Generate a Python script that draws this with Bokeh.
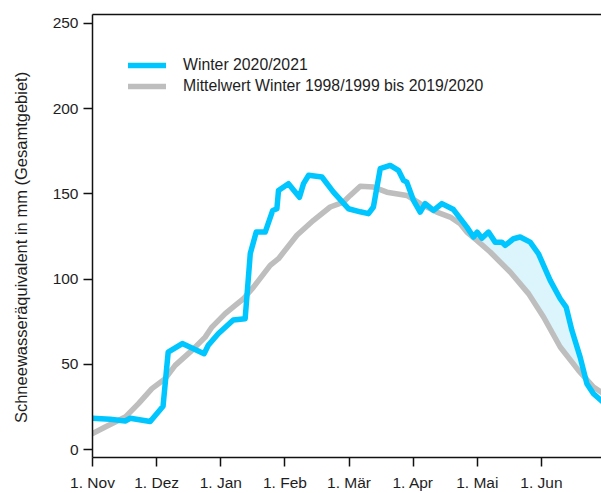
import numpy as np
from bokeh.plotting import figure
from bokeh.models import (Range1d, FixedTicker, LinearAxis, Legend, LegendItem)
from bokeh.embed import file_html
from bokeh.resources import INLINE

# Zeitachse in Monaten ab 1. November (0 = 1. Nov, 1 = 1. Dez, ...)
monats_ticks = [0, 1, 2, 3, 4, 5, 6, 7]
monats_labels = ["1. Nov", "1. Dez", "1. Jan", "1. Feb", "1. Mär", "1. Apr", "1. Mai", "1. Jun"]
swe_ticks = [0, 50, 100, 150, 200, 250]

# Winter 2020/2021 (Schneewasseräquivalent in mm)
blau_monat = [0.0, 0.276, 0.51, 0.588, 0.90, 1.10, 1.18, 1.40, 1.74, 1.805, 1.96,
              2.195, 2.38, 2.46, 2.553, 2.693, 2.81, 2.875, 2.90, 3.055, 3.227,
              3.29, 3.37, 3.577, 3.757, 3.99, 4.174, 4.303, 4.38, 4.486, 4.641,
              4.77, 4.85, 4.90, 5.005, 5.109, 5.187, 5.317, 5.447, 5.628, 5.837,
              5.94, 5.998, 6.07, 6.174, 6.278, 6.383, 6.434, 6.564, 6.668, 6.824,
              6.953, 7.136, 7.292, 7.385, 7.474, 7.603, 7.708, 7.811, 7.94]
blau_swe = [18.4, 17.8, 16.8, 18.4, 16.5, 25.4, 57.2, 62.2, 56.3, 61.2, 68.0,
            76.0, 76.8, 115.0, 127.6, 127.6, 140.3, 141.3, 152.0, 156.0, 148.0,
            156.0, 160.9, 159.9, 151.0, 141.3, 139.5, 138.4, 142.3, 164.8, 166.7,
            163.8, 157.9, 156.9, 146.2, 139.3, 144.3, 140.3, 144.3, 140.8, 130.5,
            124.7, 127.6, 124.0, 127.6, 121.7, 121.7, 119.8, 123.7, 124.7, 121.7,
            114.9, 99.3, 88.5, 83.6, 70.0, 54.3, 38.7, 32.8, 28.5]

# Mittelwert Winter 1998/1999 bis 2019/2020
mittel_monat = [0.0, 0.198, 0.51, 0.717, 0.926, 1.133, 1.289, 1.55, 1.757, 1.862,
                2.069, 2.225, 2.354, 2.51, 2.77, 2.90, 3.187, 3.446, 3.706, 3.913,
                4.018, 4.174, 4.381, 4.59, 4.902, 5.109, 5.369, 5.577, 5.733,
                5.837, 5.993, 6.20, 6.512, 6.798, 7.032, 7.292, 7.577, 7.811, 7.94]
mittel_swe = [9.4, 13.3, 19.1, 27.0, 35.8, 41.6, 49.4, 58.2, 66.0, 71.9,
              79.8, 84.6, 88.5, 95.3, 108.1, 112.0, 125.7, 134.5, 142.3, 145.2,
              149.1, 154.5, 154.0, 151.0, 149.1, 144.3, 139.3, 136.4, 132.5,
              127.6, 122.7, 115.9, 104.2, 91.5, 77.8, 60.2, 46.5, 36.7, 33.5]

BLAU = "#00c6ff"
GRAU = "#bebebe"
FLAECHE = "#dcf4fc"
SCHRIFT = "Liberation Sans"
TEXT = "#1e1e1e"

p = figure(width=601, height=493, output_backend="svg", toolbar_location=None,
           x_range=Range1d(0, 7.936), y_range=Range1d(-4.6, 255.2),
           min_border_left=92, min_border_right=0, min_border_top=14,
           min_border_bottom=36)
p.outline_line_color = None
p.xgrid.visible = False
p.ygrid.visible = False
p.background_fill_color = "white"

# Überschuss gegenüber dem Mittel im Frühjahr hellblau hinterlegen
gitter = np.linspace(5.9, 7.936, 500)
b_i = np.interp(gitter, blau_monat, blau_swe)
m_i = np.interp(gitter, mittel_monat, mittel_swe)
p.varea(x=gitter, y1=m_i, y2=np.maximum(b_i, m_i), fill_color=FLAECHE, fill_alpha=1.0)

r_mittel = p.line(mittel_monat, mittel_swe, line_color=GRAU, line_width=5.5,
                  line_join="round", line_cap="round")
r_blau = p.line(blau_monat, blau_swe, line_color=BLAU, line_width=5.5,
                line_join="round", line_cap="round")

legend = Legend(items=[LegendItem(label="Winter 2020/2021", renderers=[r_blau]),
                       LegendItem(label="Mittelwert Winter 1998/1999 bis 2019/2020",
                                  renderers=[r_mittel])],
                location=(36, 361), orientation="vertical")
legend.border_line_color = None
legend.background_fill_alpha = 0
legend.padding = 0
legend.margin = 0
legend.spacing = 1
legend.glyph_width = 38
legend.glyph_height = 20
legend.label_height = 20
legend.label_standoff = 17
legend.label_text_font = SCHRIFT
legend.label_text_font_size = "15.8px"
legend.label_text_color = TEXT
p.add_layout(legend)

for ax in (p.xaxis[0], p.yaxis[0]):
    ax.axis_line_color = "#111111"
    ax.axis_line_width = 1.5
    ax.major_tick_line_color = "#111111"
    ax.major_tick_line_width = 1.5
    ax.major_tick_in = 0
    ax.major_tick_out = 9
    ax.minor_tick_line_color = None
    ax.major_label_text_font = SCHRIFT
    ax.major_label_text_font_size = "15.5px"
    ax.major_label_text_color = TEXT

p.xaxis.ticker = FixedTicker(ticks=monats_ticks)
p.xaxis.major_label_overrides = {t: l for t, l in zip(monats_ticks, monats_labels)}
p.xaxis.major_label_standoff = 7

p.yaxis.ticker = FixedTicker(ticks=swe_ticks)
p.yaxis.major_label_standoff = 5
# nachgestellte geschützte Leerzeichen rücken die Beschriftung etwas nach unten
p.yaxis.axis_label = "Schneewasseräquivalent in mm  (Gesamtgebiet)" + "\u00a0" * 4
p.yaxis.axis_label_text_font = SCHRIFT
p.yaxis.axis_label_text_font_size = "16.5px"
p.yaxis.axis_label_text_font_style = "normal"
p.yaxis.axis_label_text_color = TEXT
p.yaxis.axis_label_standoff = 20

# obere Rahmenlinie
oben = LinearAxis(axis_line_color="#111111", axis_line_width=1.5,
                  major_tick_line_color=None, minor_tick_line_color=None,
                  major_label_text_font_size="0px", ticker=FixedTicker(ticks=[]))
p.add_layout(oben, "above")

open("out.html", "w").write(file_html(p, INLINE))
